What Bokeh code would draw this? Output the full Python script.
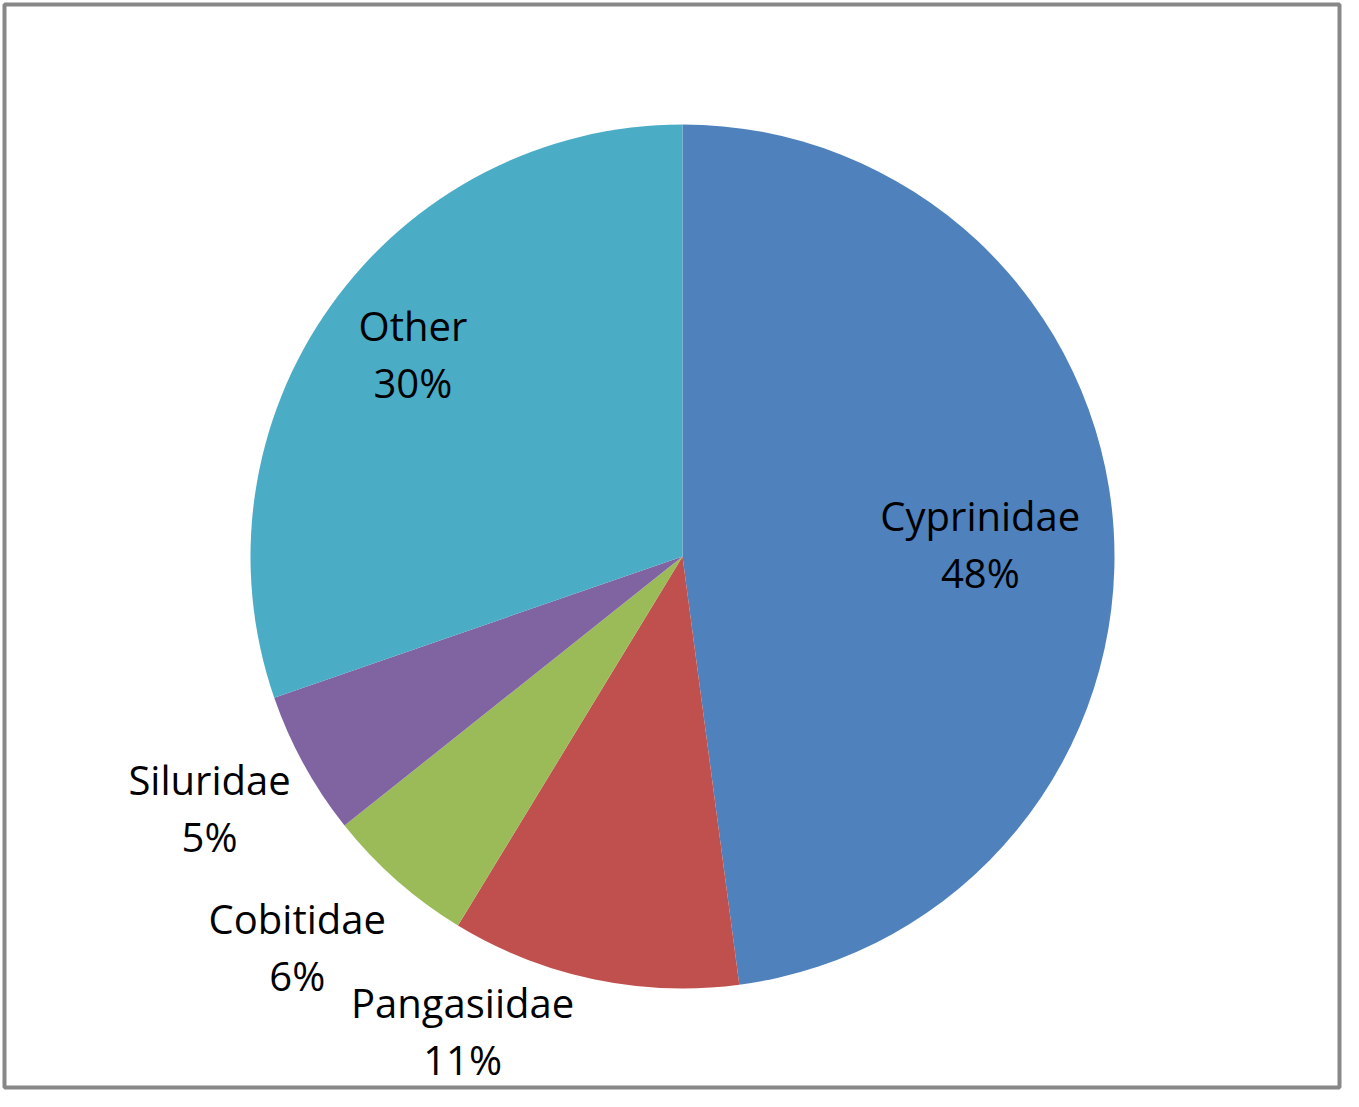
import math
from bokeh.plotting import figure
from bokeh.models import Range1d, ColumnDataSource
from bokeh.core.properties import value
from bokeh.embed import file_html
from bokeh.resources import INLINE

# ---- data ----
families = ["Cyprinidae", "Pangasiidae", "Cobitidae", "Siluridae", "Other"]
shares = [47.9, 10.8, 5.6, 5.4, 30.3]
colors = ["#4F81BD", "#C0504D", "#9BBB59", "#8064A2", "#4BACC6"]

# ---- layout ----
W, H = 1343, 1091
PAD = 4
CX, CY = 682, H - 556
R = 432
# label placement: (distance as fraction of radius, angle nudge in degrees clockwise)
label_place = [(0.69, 1.3), (1.21, 13.0), (1.27, 3.2), (1.24, 0.8), (0.78, 1.4)]
FONT = "Open Sans"
FSIZE = "40px"
LINE_GAP = 57

total = sum(shares)
starts, ends, lx, ly = [], [], [], []
cum = 0.0
for v, (rf, nudge) in zip(shares, label_place):
    a0 = cum / total * 2 * math.pi
    cum += v
    a1 = cum / total * 2 * math.pi
    starts.append(math.pi / 2 - a0)
    ends.append(math.pi / 2 - a1)
    mid = (a0 + a1) / 2 + math.radians(nudge)
    lx.append(CX + rf * R * math.sin(mid))
    ly.append(CY + rf * R * math.cos(mid))

src = ColumnDataSource(dict(
    start=starts, end=ends, color=colors,
    x=[CX] * len(shares), y=[CY] * len(shares),
    lx=lx, ly_top=[y + LINE_GAP / 2 for y in ly], ly_bot=[y - LINE_GAP / 2 for y in ly],
    name=families, pct=[f"{v:.0f}%" for v in shares],
))

p = figure(width=W, height=H, output_backend="svg", toolbar_location=None,
           x_range=Range1d(PAD, W - PAD), y_range=Range1d(PAD, H - PAD),
           min_border_left=PAD, min_border_right=PAD, min_border_top=PAD, min_border_bottom=PAD)
p.axis.visible = False
p.grid.visible = False
p.outline_line_color = "#888888"
p.outline_line_width = 4
p.background_fill_color = "white"
p.border_fill_color = "white"

p.wedge(x="x", y="y", radius=R, start_angle="start", end_angle="end",
        direction="clock", fill_color="color", line_color=None, source=src)

p.text(x="lx", y="ly_top", text="name", source=src, text_font=value(FONT),
       text_font_size=FSIZE, text_align="center", text_baseline="middle", text_color="#000000")
p.text(x="lx", y="ly_bot", text="pct", source=src, text_font=value(FONT),
       text_font_size=FSIZE, text_align="center", text_baseline="middle", text_color="#000000")

open("out.html", "w").write(file_html(p, INLINE))
